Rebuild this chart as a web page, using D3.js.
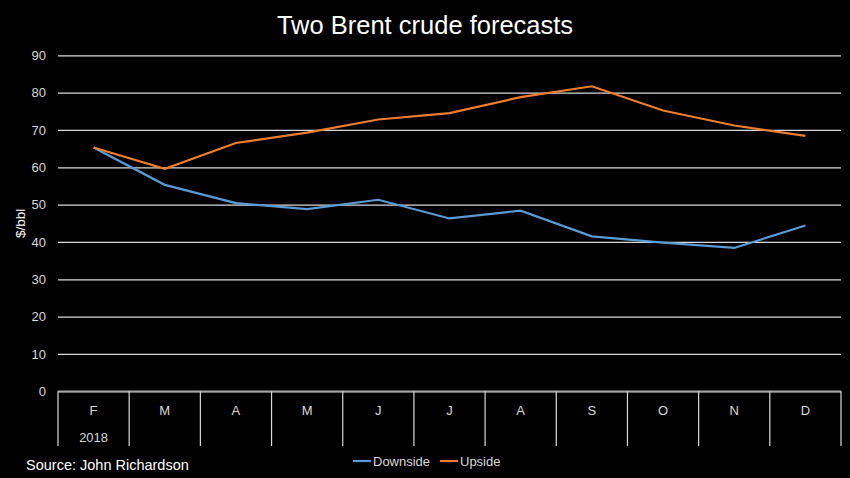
<!DOCTYPE html>
<html><head><meta charset="utf-8">
<script src="https://cdn.jsdelivr.net/npm/d3@7"></script>
<style>html,body{margin:0;padding:0;background:#000;}svg{display:block;}</style>
</head><body>
<svg id="c" width="850" height="478"></svg>
<script>
const months = ["F","M","A","M","J","J","A","S","O","N","D"];
const yearLabel = "2018";
const downside = [65.3,55.3,50.4,48.8,51.3,46.3,48.4,41.5,39.8,38.4,44.4];
const upside   = [65.3,59.6,66.5,69.3,72.8,74.5,78.8,81.7,75.2,71.2,68.4];
const yTicks = [0,10,20,30,40,50,60,70,80,90];
const seriesNames = ["Downside","Upside"];
const colors = ["#5b9bd5","#ed7d31"];

const svg = d3.select("#c");
const font = "Liberation Sans, Arial, sans-serif";
svg.append("rect").attr("width",850).attr("height",478).attr("fill","#000");

const L=58, R=841, T=55.3, B=391.3;
const x = d3.scaleBand().domain(d3.range(months.length)).range([L,R]).padding(0);
const y = d3.scaleLinear().domain([0,90]).range([B,T]);

svg.append("text").attr("x",425).attr("y",34).attr("text-anchor","middle")
  .attr("fill","#fff").attr("font-family",font).attr("font-size",25.5).text("Two Brent crude forecasts");

// grid
const yAxis = d3.axisLeft(y).tickValues(yTicks).tickSize(-(R-L)).tickPadding(12);
const gy = svg.append("g").attr("transform",`translate(${L},0)`).call(yAxis);
gy.select(".domain").remove();
gy.selectAll(".tick line").attr("stroke","#d9d9d9").attr("stroke-width",1.3);
gy.selectAll(".tick text").attr("fill","#d9d9d9").attr("font-family",font).attr("font-size",13);

svg.append("text").attr("transform",`translate(25,${(T+B)/2}) rotate(-90)`).attr("text-anchor","middle")
  .attr("fill","#fff").attr("font-family",font).attr("font-size",13.5).text("$/bbl");

// category table
const tb = 446;
const g2 = svg.append("g");
g2.append("line").attr("x1",L).attr("x2",R).attr("y1",B).attr("y2",B).attr("stroke","#a6a6a6").attr("stroke-width",1.5);
const edges = months.map((m,i)=>x(i)).concat([R]);
g2.selectAll("line.sep").data(edges).enter().append("line").attr("class","sep")
  .attr("x1",d=>d).attr("x2",d=>d).attr("y1",B).attr("y2",tb).attr("stroke","#d9d9d9").attr("stroke-width",1.2);
g2.selectAll("text.m").data(months).enter().append("text").attr("class","m")
  .attr("x",(d,i)=>x(i)+x.bandwidth()/2).attr("y",415).attr("text-anchor","middle")
  .attr("fill","#d9d9d9").attr("font-family",font).attr("font-size",13).text(d=>d);
g2.append("text").attr("x",x(0)+x.bandwidth()/2).attr("y",442).attr("text-anchor","middle")
  .attr("fill","#d9d9d9").attr("font-family",font).attr("font-size",13).text(yearLabel);

// lines
const line = d3.line().x((d,i)=>x(i)+x.bandwidth()/2).y(d=>y(d));
[downside,upside].forEach((s,k)=>{
  svg.append("path").datum(s).attr("d",line).attr("fill","none").attr("stroke",colors[k]).attr("stroke-width",2.2);
});

// legend
const legX=[353,440];
seriesNames.forEach((n,k)=>{
  svg.append("line").attr("x1",legX[k]).attr("x2",legX[k]+18).attr("y1",461).attr("y2",461).attr("stroke",colors[k]).attr("stroke-width",2.2);
  svg.append("text").attr("x",legX[k]+20).attr("y",466).attr("fill","#d9d9d9").attr("font-family",font).attr("font-size",13).text(n);
});

svg.append("text").attr("x",26).attr("y",470).attr("fill","#fff").attr("font-family",font).attr("font-size",14.5).text("Source: John Richardson");
</script>
</body></html>
